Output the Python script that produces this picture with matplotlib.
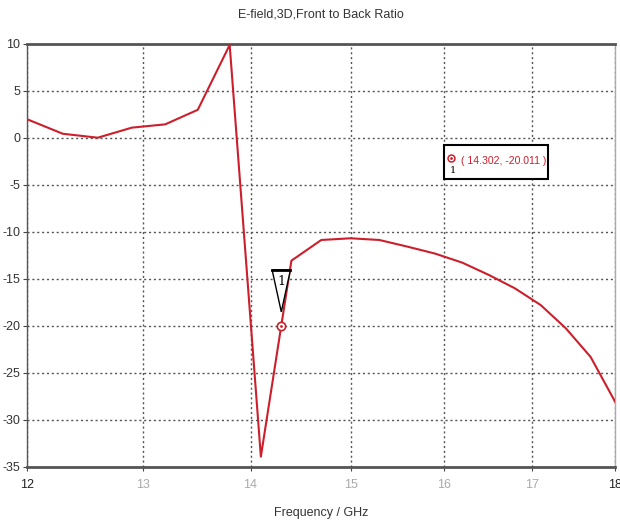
import matplotlib
matplotlib.use('Agg')
import matplotlib.pyplot as plt
from matplotlib.patches import Rectangle
from matplotlib.ticker import FixedLocator, NullLocator, FixedFormatter

freq = [12.0, 12.3, 12.6, 12.9, 13.2, 13.5, 13.8, 14.1, 14.4, 14.7, 15.0,
        15.3, 15.6, 15.9, 16.2, 16.5, 16.8, 17.1, 17.4, 17.7, 18.0]
fbr = [2.0, 0.45, 0.03, 1.1, 1.45, 3.0, 9.9, -33.9, -13.05, -10.85, -10.67,
       -10.85, -11.56, -12.3, -13.26, -14.57, -16.0, -17.77, -20.25, -23.3, -28.05]
marker_f = 14.302
marker_v = -20.011
x_ticks = [12, 13, 14, 15, 16, 17, 18]
y_ticks = [10, 5, 0, -5, -10, -15, -20, -25, -30, -35]

red = '#cc1f2c'
plt.rcParams['font.family'] = ['Liberation Sans', 'DejaVu Sans']
plt.rcParams['axes.unicode_minus'] = False

fig = plt.figure(figsize=(6.2, 5.23), dpi=100)
ax = fig.add_axes([0.0435, 0.1071, 0.9485, 0.8088])

ax.plot(freq, fbr, color=red, linewidth=1.5, zorder=3)

# x axis is logarithmic in the reference
ax.set_xscale('log')
ax.set_xlim(12, 18)
ax.set_ylim(-35, 10)
ax.xaxis.set_major_locator(FixedLocator(x_ticks))
ax.xaxis.set_major_formatter(FixedFormatter([str(t) for t in x_ticks]))
ax.xaxis.set_minor_locator(NullLocator())
ax.set_yticks(y_ticks)

ax.grid(True, color='#555555', linestyle=(0, (1.5, 2)), linewidth=1.0)
ax.tick_params(axis='both', length=3, width=0.8, color='#444444', labelsize=9)
ax.tick_params(axis='y', pad=2)
ax.tick_params(axis='x', pad=6)
for lbl in ax.get_xticklabels():
    lbl.set_color('#aaaaaa')
ax.get_xticklabels()[0].set_color('#222222')
ax.get_xticklabels()[-1].set_color('#222222')
for lbl in ax.get_yticklabels():
    lbl.set_color('#333333')

for side in ['top', 'bottom']:
    ax.spines[side].set_color('#555555')
    ax.spines[side].set_linewidth(2)
ax.spines['left'].set_color('#555555')
ax.spines['left'].set_linewidth(1)
ax.spines['right'].set_color('#aaaaaa')
ax.spines['right'].set_linewidth(1)

ax.set_title('E-field,3D,Front to Back Ratio', fontsize=9, color='#333333', pad=19)
ax.set_xlabel('Frequency / GHz', fontsize=9, color='#333333', labelpad=11)

# Marker 1 on the curve
ax.plot(marker_f, marker_v, marker='o', markersize=6, markerfacecolor='white',
        markeredgecolor=red, markeredgewidth=1.2, zorder=5)
ax.plot(marker_f, marker_v, marker='.', markersize=2, color=red, zorder=6)
tri_x = [14.21, 14.39, 14.30, 14.21]
tri_y = [-14.04, -14.04, -18.5, -14.04]
ax.fill(tri_x, tri_y, facecolor='white', edgecolor='black', linewidth=1.0, zorder=4)
ax.plot([14.21, 14.39], [-14.04, -14.04], color='black', linewidth=2, zorder=4)
ax.text(14.30, -15.3, '1', ha='center', va='center', fontsize=9, family='DejaVu Serif', zorder=5)

# Marker readout box
ax.add_patch(Rectangle((16.0, -4.36), 1.19, 3.62, facecolor='white', edgecolor='black',
                       linewidth=1.5, zorder=6))
ax.text(16.19, -2.45, '( %.3f, %.3f )' % (marker_f, marker_v), ha='left', va='center',
        fontsize=7.6, color=red, zorder=7)
ax.plot(16.07, -2.13, marker='o', markersize=5, markerfacecolor='white',
        markeredgecolor=red, markeredgewidth=1.1, zorder=7)
ax.plot(16.07, -2.13, marker='.', markersize=2, color=red, zorder=8)
ax.text(16.1, -3.5, '1', ha='center', va='center', fontsize=7, family='DejaVu Serif', zorder=8)

fig.savefig('out.png', dpi=100)
